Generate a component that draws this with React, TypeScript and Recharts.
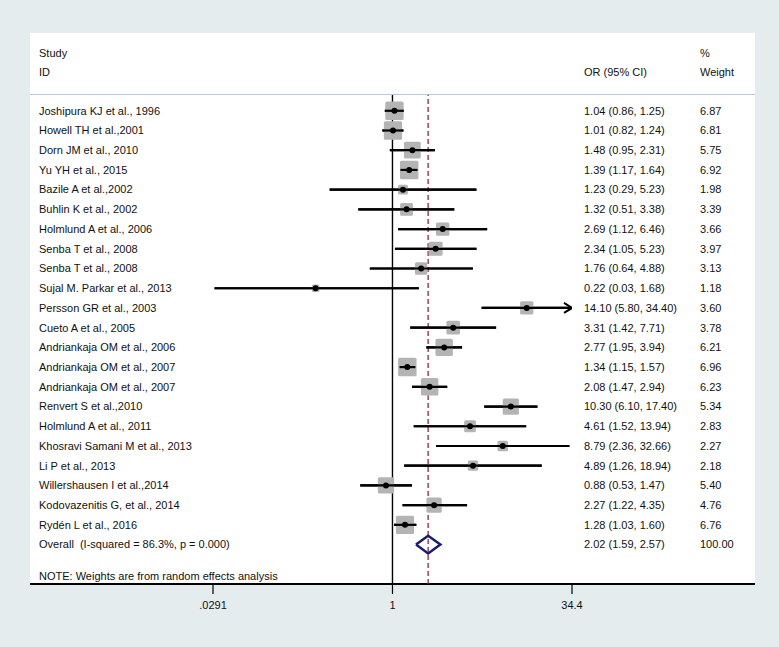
import React from "react";
import {
  ComposedChart,
  XAxis,
  YAxis,
  Line,
  ReferenceLine,
} from "recharts";

const studies = [
  "Joshipura KJ et al., 1996",
  "Howell TH et al.,2001",
  "Dorn JM et al., 2010",
  "Yu YH et al., 2015",
  "Bazile A et al.,2002",
  "Buhlin K et al., 2002",
  "Holmlund A et al., 2006",
  "Senba T et al., 2008",
  "Senba T et al., 2008",
  "Sujal M. Parkar et al., 2013",
  "Persson GR et al., 2003",
  "Cueto A et al., 2005",
  "Andriankaja OM et al., 2006",
  "Andriankaja OM et al., 2007",
  "Andriankaja OM et al., 2007",
  "Renvert S et al.,2010",
  "Holmlund A et al., 2011",
  "Khosravi Samani M et al., 2013",
  "Li P et al., 2013",
  "Willershausen I et al.,2014",
  "Kodovazenitis G, et al., 2014",
  "Rydén L et al., 2016",
];
const orValues = [1.04, 1.01, 1.48, 1.39, 1.23, 1.32, 2.69, 2.34, 1.76, 0.22, 14.1, 3.31, 2.77, 1.34, 2.08, 10.3, 4.61, 8.79, 4.89, 0.88, 2.27, 1.28];
const ciLow = [0.86, 0.82, 0.95, 1.17, 0.29, 0.51, 1.12, 1.05, 0.64, 0.03, 5.8, 1.42, 1.95, 1.15, 1.47, 6.1, 1.52, 2.36, 1.26, 0.53, 1.22, 1.03];
const ciHigh = [1.25, 1.24, 2.31, 1.64, 5.23, 3.38, 6.46, 5.23, 4.88, 1.68, 34.4, 7.71, 3.94, 1.57, 2.94, 17.4, 13.94, 32.66, 18.94, 1.47, 4.35, 1.6];
const weights = [6.87, 6.81, 5.75, 6.92, 1.98, 3.39, 3.66, 3.97, 3.13, 1.18, 3.6, 3.78, 6.21, 6.96, 6.23, 5.34, 2.83, 2.27, 2.18, 5.4, 4.76, 6.76];

const overallLabel = "Overall  (I-squared = 86.3%, p = 0.000)";
const overallOR = 2.02;
const overallLow = 1.59;
const overallHigh = 2.57;
const overallWeight = 100.0;
const noteText = "NOTE: Weights are from random effects analysis";

const xTicks = [0.0291, 1, 34.4];
const xTickLabels = [".0291", "1", "34.4"];
const xMin = 0.0291;
const xMax = 34.4;

const FONT = "'Liberation Sans Narrow', 'Arial Narrow', 'Liberation Sans', Arial, sans-serif";

const overallRow = studies.length; // 22
const noteRow = overallRow + 1.58;

const ciSegments = studies.map((s, i) => [
  { x: ciLow[i], y: i, kind: "lo", w: weights[i] },
  { x: orValues[i], y: i, kind: "mid", w: weights[i], arrow: ciHigh[i] >= xMax },
  { x: ciHigh[i], y: i, kind: "hi", w: weights[i] },
]);
const diamond = [
  { x: overallLow, y: overallRow },
  { x: overallOR, y: overallRow - 0.45 },
  { x: overallHigh, y: overallRow },
  { x: overallOR, y: overallRow + 0.45 },
  { x: overallLow, y: overallRow },
];
const yTicks = [...studies.map((_, i) => i), overallRow, noteRow];

const fmt = (v: number) => v.toFixed(2);

const RowTick = (props: any) => {
  const { y, payload } = props;
  const v = payload.value;
  const style = { fontFamily: FONT, fontSize: 11, fill: "#111", whiteSpace: "pre" as const };
  if (v === noteRow) {
    return (
      <text x={39} y={y} dy="0.35em" style={style}>
        {noteText}
      </text>
    );
  }
  let name: string, orText: string, wText: string;
  if (v === overallRow) {
    name = overallLabel;
    orText = `${fmt(overallOR)} (${fmt(overallLow)}, ${fmt(overallHigh)})`;
    wText = fmt(overallWeight);
  } else {
    name = studies[v];
    orText = `${fmt(orValues[v])} (${fmt(ciLow[v])}, ${fmt(ciHigh[v])})`;
    wText = fmt(weights[v]);
  }
  return (
    <g>
      <text x={39} y={y} dy="0.35em" style={style}>{name}</text>
      <text x={584} y={y} dy="0.35em" style={style}>{orText}</text>
      <text x={700} y={y} dy="0.35em" style={style}>{wText}</text>
    </g>
  );
};

// Draws box, CI segment (from the line's own scaled points), arrow and point estimate.
const StudyMark = (p: any) => {
  const { cx, cy, payload, index, points } = p;
  if (payload.kind !== "mid") return <g key={index} />;
  const s = 7 * Math.sqrt(payload.w);
  const x0 = points && points.length ? points[0].x : cx;
  const x1 = points && points.length ? points[points.length - 1].x : cx;
  return (
    <g key={index}>
      <rect x={cx - s / 2} y={cy - s / 2} width={s} height={s} rx={1.5} fill="#b4b4b4" />
      <line x1={x0} y1={cy} x2={x1} y2={cy} stroke="#000" strokeWidth={2.2} />
      {payload.arrow ? (
        <path d={`M${x1 - 8},${cy - 5} L${x1},${cy} L${x1 - 8},${cy + 5}`} fill="none" stroke="#000" strokeWidth={2} />
      ) : null}
      <circle cx={cx} cy={cy} r={3} fill="#000" />
    </g>
  );
};

const headerStyle: React.CSSProperties = {
  position: "absolute",
  fontFamily: FONT,
  fontSize: 11,
  color: "#111",
  lineHeight: "12px",
  whiteSpace: "pre",
};

export default function App() {
  return (
    <div style={{ position: "absolute", left: 0, top: 0, width: 779, height: 647, background: "#e5ecee", overflow: "hidden" }}>
      <div style={{ position: "absolute", left: 30, top: 33, width: 725, height: 551, background: "#fff" }} />
      <div style={{ position: "absolute", left: 30, top: 94, width: 725, height: 1, background: "#b9c8d6" }} />
      <div style={{ position: "absolute", left: 30, top: 583, width: 725, height: 1.5, background: "#000" }} />
      <span style={{ ...headerStyle, left: 39, top: 47 }}>Study</span>
      <span style={{ ...headerStyle, left: 39, top: 66 }}>ID</span>
      <span style={{ ...headerStyle, left: 584, top: 66 }}>OR (95% CI)</span>
      <span style={{ ...headerStyle, left: 700, top: 47 }}>%</span>
      <span style={{ ...headerStyle, left: 700, top: 66 }}>Weight</span>
      <div style={{ position: "absolute", left: 0, top: 0 }}>
        <ComposedChart width={779} height={647} margin={{ top: 95, right: 207, bottom: 33, left: 30 }}>
          <XAxis
            xAxisId="x"
            dataKey="x"
            type="number"
            scale="log"
            domain={[xMin, xMax]}
            allowDataOverflow
            ticks={xTicks}
            tickFormatter={(v: number) => xTickLabels[xTicks.indexOf(v)] ?? String(v)}
            axisLine={false}
            tickLine={{ stroke: "#000", strokeWidth: 1.2 }}
            tickSize={10}
            tickMargin={7}
            height={30}
            interval={0}
            tick={{ fontFamily: FONT, fontSize: 11, fill: "#111" }}
          />
          <YAxis
            yAxisId="y"
            dataKey="y"
            type="number"
            domain={[-0.8, 24]}
            reversed
            allowDataOverflow
            ticks={yTicks}
            interval={0}
            width={183}
            axisLine={false}
            tickLine={false}
            tick={<RowTick />}
          />
          <ReferenceLine xAxisId="x" yAxisId="y" x={1} stroke="#000" strokeWidth={1.4} />
          <ReferenceLine xAxisId="x" yAxisId="y" x={overallOR} stroke="#8c2a3c" strokeWidth={1.3} strokeDasharray="5 3" />
          {ciSegments.map((seg, i) => (
            <Line
              key={`ci-${i}`}
              xAxisId="x"
              yAxisId="y"
              data={seg}
              dataKey="y"
              type="linear"
              stroke="#000"
              strokeWidth={2.2}
              dot={StudyMark}
              activeDot={false}
              isAnimationActive={false}
            />
          ))}
          <Line
            xAxisId="x"
            yAxisId="y"
            data={diamond}
            dataKey="y"
            type="linear"
            stroke="#1c1c6e"
            strokeWidth={2.5}
            dot={false}
            activeDot={false}
            isAnimationActive={false}
          />
        </ComposedChart>
      </div>
    </div>
  );
}
